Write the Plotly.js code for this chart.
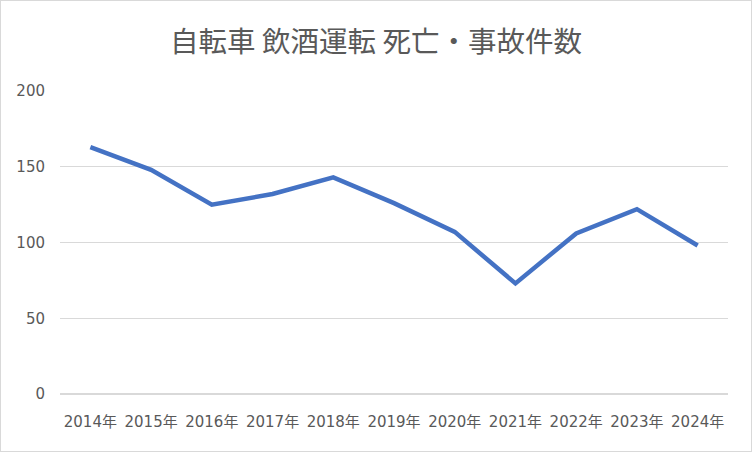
<!DOCTYPE html>
<html>
<head>
<meta charset="utf-8">
<script src="https://cdn.plot.ly/plotly-3.0.1.min.js"></script>
<style>
  html, body { margin: 0; padding: 0; background: #ffffff; }
  #chart { position: absolute; left: 0; top: 0; width: 750px; height: 450px; border: 1px solid #d9d9d9; }
</style>
</head>
<body>
<div id="chart"></div>
<script>
// 自転車の飲酒運転による死亡・事故件数
const years = ['2014年', '2015年', '2016年', '2017年', '2018年', '2019年',
    '2020年', '2021年', '2022年', '2023年', '2024年'];
const counts = [163, 148, 125, 132, 143, 126, 107, 73, 106, 122, 98];
const yTicks = [0, 50, 100, 150, 200];

const textColor = '#595959';
const gridColor = '#d9d9d9';
const titleFam = '"Noto Sans CJK JP", "Noto Sans", sans-serif';
const tickFam = '"DejaVu Sans", "Noto Sans CJK JP", sans-serif';

let data = [{
    x: years,
    y: counts,
    type: 'scatter',
    mode: 'lines',
    line: { color: '#4472c4', width: 4.5, simplify: false },
    hoverinfo: 'x+y',
}];

let layout = {
    width: 750,
    height: 450,
    margin: { l: 59, r: 23, t: 90, b: 57, pad: 0 },
    paper_bgcolor: '#ffffff',
    plot_bgcolor: '#ffffff',
    showlegend: false,
    title: {
        text: '自転車 飲酒運転 死亡・事故件数',
        x: 0.5,
        xref: 'container',
        xanchor: 'center',
        y: 1 - 41 / 450,
        yref: 'container',
        yanchor: 'middle',
        font: { family: titleFam, size: 28.5, color: textColor },
    },
    xaxis: {
        type: 'category',
        range: [-0.5, years.length - 0.5],
        showgrid: false,
        zeroline: false,
        showline: false,
        ticks: '',
        ticklabelstandoff: 17,
        tickfont: { family: tickFam, size: 15, color: textColor },
        fixedrange: true,
    },
    yaxis: {
        range: [0, 200],
        tickvals: yTicks,
        ticktext: yTicks.map(String),
        showgrid: true,
        gridcolor: gridColor,
        gridwidth: 1.3,
        zeroline: true,
        zerolinecolor: gridColor,
        zerolinewidth: 1.3,
        showline: false,
        ticks: '',
        ticklabelstandoff: 14,
        tickfont: { family: tickFam, size: 15, color: textColor },
        fixedrange: true,
    },
};

let config = {
    staticPlot: true,
    displayModeBar: false,
};

Plotly.newPlot('chart', data, layout, config);
</script>
</body>
</html>
